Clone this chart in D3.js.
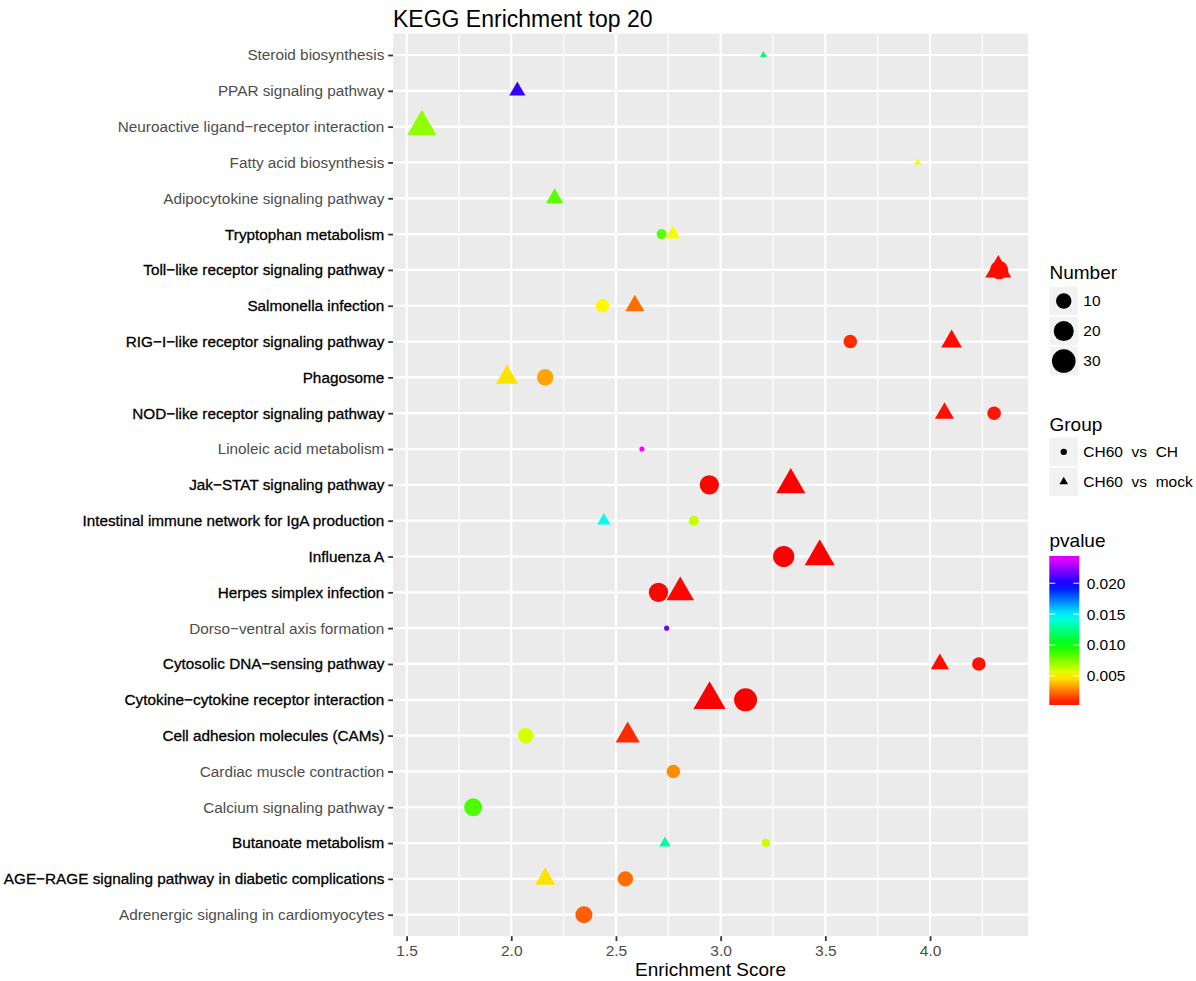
<!DOCTYPE html>
<html>
<head>
<meta charset="utf-8">
<script src="https://cdn.jsdelivr.net/npm/d3@7"></script>
<style>
  body { margin: 0; background: #fff; }
  svg { font-family: "Liberation Sans", Arial, sans-serif; }
</style>
</head>
<body>
<div id="chart"></div>
<script>
// pathways, top to bottom as shown on the y axis
const pathways = [
  "Steroid biosynthesis", "PPAR signaling pathway", "Neuroactive ligand\u2212receptor interaction",
  "Fatty acid biosynthesis", "Adipocytokine signaling pathway", "Tryptophan metabolism",
  "Toll\u2212like receptor signaling pathway", "Salmonella infection", "RIG\u2212I\u2212like receptor signaling pathway",
  "Phagosome", "NOD\u2212like receptor signaling pathway", "Linoleic acid metabolism",
  "Jak\u2212STAT signaling pathway", "Intestinal immune network for IgA production", "Influenza A",
  "Herpes simplex infection", "Dorso\u2212ventral axis formation", "Cytosolic DNA\u2212sensing pathway",
  "Cytokine\u2212cytokine receptor interaction", "Cell adhesion molecules (CAMs)", "Cardiac muscle contraction",
  "Calcium signaling pathway", "Butanoate metabolism", "AGE\u2212RAGE signaling pathway in diabetic complications",
  "Adrenergic signaling in cardiomyocytes"
];

// group "CH60  vs  CH" (circles), indices into pathways
const chIndex  = [5, 6, 7, 8, 9, 10, 11, 12, 13, 14, 15, 16, 17, 18, 19, 20, 21, 22, 23, 24];
const chScore  = [2.718, 4.330, 2.436, 3.619, 2.162, 4.306, 2.624, 2.946, 2.872, 3.301,
                  2.703, 2.742, 4.233, 3.119, 2.069, 2.774, 1.818, 3.216, 2.545, 2.347];
const chNumber = [3, 16, 7, 7, 12, 7, 1, 18, 3, 23, 18, 1, 7, 28, 10, 7, 15, 2, 10, 13];
const chPvalue = [0.0083, 0.0007, 0.0050, 0.0011, 0.0034, 0.0007, 0.0244, 0.0004, 0.0062, 0.0003,
                  0.0004, 0.0219, 0.0006, 0.0003, 0.0059, 0.0030, 0.0085, 0.0062, 0.0024, 0.0021];

// group "CH60  vs  mock" (triangles)
const mockIndex  = [0, 1, 2, 3, 4, 5, 6, 7, 8, 9, 10, 12, 13, 14, 15, 17, 18, 19, 22, 23];
const mockScore  = [3.204, 2.029, 1.573, 3.941, 2.207, 2.772, 4.326, 2.590, 4.103, 1.980,
                    4.069, 3.335, 2.442, 3.473, 2.807, 4.047, 2.947, 2.556, 2.734, 2.162];
const mockNumber = [1, 5, 24, 1, 6, 4, 18, 8, 10, 12, 8, 24, 3, 26, 21, 7, 31, 15, 2, 9];
const mockPvalue = [0.0120, 0.0206, 0.0072, 0.0054, 0.0082, 0.0053, 0.0005, 0.0024, 0.0005, 0.0046,
                    0.0006, 0.0003, 0.0145, 0.0003, 0.0004, 0.0005, 0.0003, 0.0011, 0.0129, 0.0046];

const groups = ["CH60  vs  CH", "CH60  vs  mock"];
const xTicks = [1.5, 2.0, 2.5, 3.0, 3.5, 4.0];
const xMinor = [1.75, 2.25, 2.75, 3.25, 3.75, 4.25];
const sizeBreaks = [10, 20, 30];
const pvalueBreaks = [0.005, 0.010, 0.015, 0.020];
const rainbow = ["#ff0000", "#ffff00", "#00ff00", "#00ffff", "#0000ff", "#ff00ff"];

let data = [];
chIndex.forEach((p, i) => data.push({ pathway: pathways[p], score: chScore[i], number: chNumber[i], pvalue: chPvalue[i], group: groups[0] }));
mockIndex.forEach((p, i) => data.push({ pathway: pathways[p], score: mockScore[i], number: mockNumber[i], pvalue: mockPvalue[i], group: groups[1] }));

const W = 1196, H = 981;
const panel = { left: 393, right: 1028, top: 33.5, bottom: 936.2 };

const svg = d3.select("#chart").append("svg")
  .attr("width", W).attr("height", H)
  .attr("viewBox", [0, 0, W, H].join(" "));

// scales
const xExt = d3.extent(data, d => d.score);
const pad = (xExt[1] - xExt[0]) * 0.05;
const x = d3.scaleLinear().domain([xExt[0] - pad, xExt[1] + pad]).range([panel.left, panel.right]);
const y = d3.scalePoint().domain(pathways).range([panel.top, panel.bottom]).padding(0.6);

const pExt = d3.extent(data, d => d.pvalue);
const color = d3.scaleLinear()
  .domain(d3.range(rainbow.length).map(i => pExt[0] + i * (pExt[1] - pExt[0]) / (rainbow.length - 1)))
  .range(rainbow);

// ggplot-like area size scale -> diameter in px
const nExt = d3.extent(data, d => d.number);
const nRescale = d3.scaleLinear().domain(nExt).range([0, 1]).clamp(true);
const ggSize = d3.scaleLinear().domain([0, 1]).range([1, 6]);
const diam = n => 3.755 * ggSize(Math.sqrt(nRescale(n))) + 1.4;
const symbolFor = g => g === groups[0] ? d3.symbolCircle : d3.symbolTriangle;
const symbolPath = (g, D) => d3.symbol(symbolFor(g), Math.PI * (D / 2) * (D / 2))();

// panel background + grid
svg.append("rect")
  .attr("x", panel.left).attr("y", panel.top)
  .attr("width", panel.right - panel.left).attr("height", panel.bottom - panel.top)
  .attr("fill", "#EBEBEB");

const grid = svg.append("g").attr("stroke", "#fff");
grid.selectAll(".minor").data(xMinor).enter().append("line")
  .attr("x1", d => x(d)).attr("x2", d => x(d))
  .attr("y1", panel.top).attr("y2", panel.bottom)
  .attr("stroke-width", 1.1);
grid.selectAll(".majx").data(xTicks).enter().append("line")
  .attr("x1", d => x(d)).attr("x2", d => x(d))
  .attr("y1", panel.top).attr("y2", panel.bottom)
  .attr("stroke-width", 2.2);
grid.selectAll(".majy").data(pathways).enter().append("line")
  .attr("x1", panel.left).attr("x2", panel.right)
  .attr("y1", d => y(d)).attr("y2", d => y(d))
  .attr("stroke-width", 2.2);

// points
svg.append("g").selectAll("path")
  .data(data).enter().append("path")
  .attr("transform", d => `translate(${x(d.score)},${y(d.pathway)})`)
  .attr("d", d => symbolPath(d.group, diam(d.number)))
  .attr("fill", d => color(d.pvalue));

// axes
const xAxis = svg.append("g")
  .attr("transform", `translate(0,${panel.bottom})`)
  .call(d3.axisBottom(x).tickValues(xTicks).tickFormat(d3.format(".1f")).tickSize(4.8).tickPadding(3.9).tickSizeOuter(0));
xAxis.select(".domain").remove();
xAxis.selectAll("line").attr("stroke", "#333").attr("stroke-width", 1.8);
xAxis.selectAll("text").attr("fill", "#4D4D4D").style("font-size", "15.5px")
  .attr("font-family", null);

const counts = d3.rollup(data, v => v.length, d => d.pathway);
const yAxis = svg.append("g")
  .attr("transform", `translate(${panel.left},0)`)
  .call(d3.axisLeft(y).tickSize(4.8).tickPadding(3.9));
yAxis.select(".domain").remove();
yAxis.selectAll("line").attr("stroke", "#333").attr("stroke-width", 1.8);
yAxis.selectAll("text")
  .attr("font-family", null)
  .style("font-size", "15.3px")
  .attr("fill", d => counts.get(d) > 1 ? "#000" : "#4D4D4D")
  .attr("stroke", d => counts.get(d) > 1 ? "#000" : "none")
  .attr("stroke-width", 0.3);

// titles
svg.append("text")
  .attr("x", panel.left).attr("y", 27)
  .style("font-size", "23px").attr("fill", "#000")
  .text("KEGG Enrichment top 20");

svg.append("text")
  .attr("x", (panel.left + panel.right) / 2).attr("y", 976)
  .attr("text-anchor", "middle")
  .style("font-size", "19px").attr("fill", "#000")
  .text("Enrichment Score");

// legends
const lx = 1049.5, keyW = 28.5, keyStep = 30, labelX = 1083.3;

// Number
const legN = svg.append("g");
legN.append("text").attr("x", lx).attr("y", 278.5).style("font-size", "19px").text("Number");
sizeBreaks.forEach((n, i) => {
  const ky = 286.8 + i * keyStep;
  legN.append("rect").attr("x", lx).attr("y", ky).attr("width", keyW).attr("height", keyW).attr("fill", "#F2F2F2");
  legN.append("path")
    .attr("transform", `translate(${lx + keyW / 2},${ky + keyW / 2})`)
    .attr("d", symbolPath(groups[0], diam(n)))
    .attr("fill", "#000");
  legN.append("text").attr("x", labelX).attr("y", ky + keyW / 2).attr("dy", "0.35em")
    .style("font-size", "15.5px").text(n);
});

// Group
const legG = svg.append("g");
legG.append("text").attr("x", lx).attr("y", 431).style("font-size", "19px").text("Group");
groups.forEach((g, i) => {
  const ky = 437.6 + i * keyStep;
  legG.append("rect").attr("x", lx).attr("y", ky).attr("width", keyW).attr("height", keyW).attr("fill", "#F2F2F2");
  legG.append("path")
    .attr("transform", `translate(${lx + keyW / 2},${ky + keyW / 2})`)
    .attr("d", symbolPath(g, 6.4))
    .attr("fill", "#000");
  legG.append("text").attr("x", labelX).attr("y", ky + keyW / 2).attr("dy", "0.35em")
    .style("font-size", "15.5px").style("white-space", "pre").text(g);
});

// pvalue colourbar
const bar = { x: 1049.3, w: 30, top: 556, bottom: 705 };
const pY = d3.scaleLinear().domain(pExt).range([bar.bottom, bar.top]);
const defs = svg.append("defs");
const grad = defs.append("linearGradient").attr("id", "pgrad")
  .attr("x1", 0).attr("y1", 1).attr("x2", 0).attr("y2", 0);
const nbin = 20;
d3.range(nbin).forEach(i => {
  const v = pExt[0] + (i + 0.5) * (pExt[1] - pExt[0]) / nbin;
  grad.append("stop").attr("offset", (i + 0.5) / nbin).attr("stop-color", color(v));
});
const legP = svg.append("g");
legP.append("text").attr("x", lx).attr("y", 547.3).style("font-size", "19px").text("pvalue");
legP.append("rect").attr("x", bar.x).attr("y", bar.top).attr("width", bar.w).attr("height", bar.bottom - bar.top)
  .attr("fill", "url(#pgrad)");
pvalueBreaks.forEach(p => {
  const ty = pY(p);
  legP.append("line").attr("x1", bar.x).attr("x2", bar.x + 6).attr("y1", ty).attr("y2", ty)
    .attr("stroke", "#fff").attr("stroke-width", 1);
  legP.append("line").attr("x1", bar.x + bar.w - 6).attr("x2", bar.x + bar.w).attr("y1", ty).attr("y2", ty)
    .attr("stroke", "#fff").attr("stroke-width", 1);
  legP.append("text").attr("x", 1086.7).attr("y", ty).attr("dy", "0.35em")
    .style("font-size", "15.5px").text(d3.format(".3f")(p));
});
</script>
</body>
</html>
